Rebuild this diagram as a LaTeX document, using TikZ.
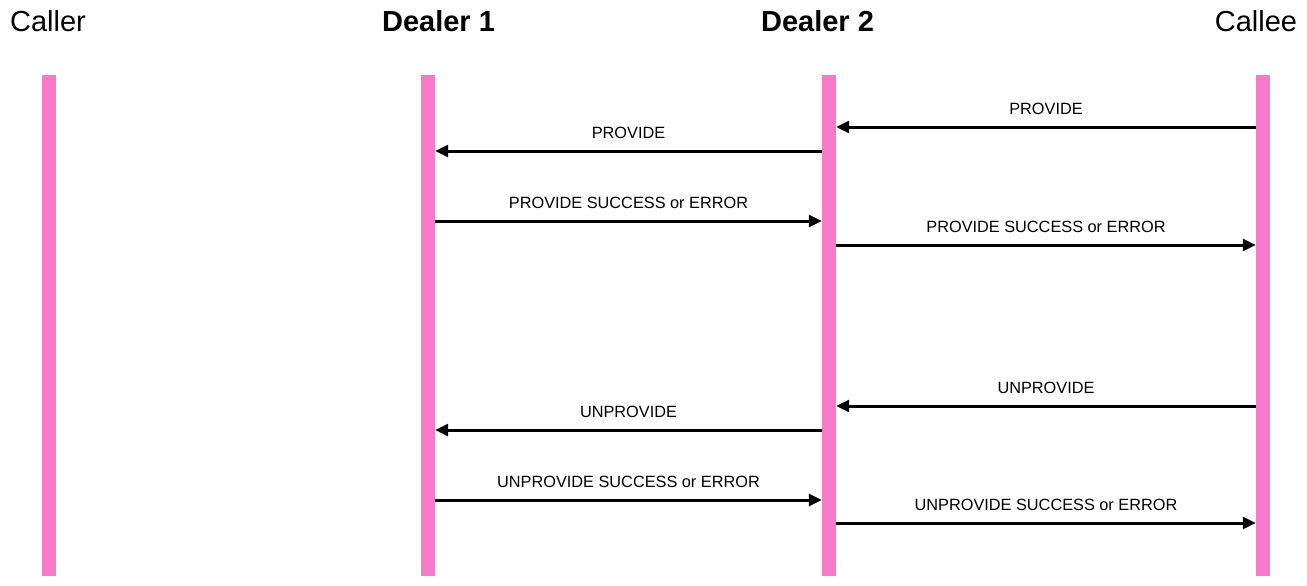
\documentclass[tikz,border=0pt]{standalone}
\usepackage{fontspec}
\setmainfont{Liberation Sans}
\usepackage{xcolor}
\definecolor{LifePink}{HTML}{F878C9}
\usetikzlibrary{arrows.meta}

\begin{document}
\begin{tikzpicture}[
  x=1pt, y=-1pt,
  lifeline/.style={
    rectangle,
    fill=LifePink,
    draw=none,
    minimum width=14pt,
    minimum height=501pt,
    inner sep=0pt},
  actor/.style={
    anchor=base,
    font=\fontsize{29}{34}\selectfont,
    inner sep=0pt},
  msg/.style={
    draw=black,
    line width=3pt,
    -{Triangle[length=13pt,width=12pt]}},
  msglabel/.style={
    midway,
    anchor=base,
    yshift=13pt,
    font=\fontsize{16.3}{19}\selectfont,
    inner sep=0pt},
]

\useasboundingbox (0,0) rectangle (1307,586);

% lifelines
\node[lifeline] (caller) at (49,325.5)   {};
\node[lifeline] (dealerA) at (428,325.5) {};
\node[lifeline] (dealerB) at (829,325.5) {};
\node[lifeline] (callee) at (1263,325.5) {};

% headings
\node[actor] (callerT) at (48,32)     {Caller};
\node[actor] (dealerAT) at (438.5,32) {\bfseries Dealer 1};
\node[actor] (dealerBT) at (817.5,32) {\bfseries Dealer 2};
\node[actor] (calleeT) at (1256,32)   {Callee};

% provide
\draw[msg] (callee.west |- 0,127) --
  node[msglabel] {PROVIDE} (dealerB.east |- 0,127);
\draw[msg] (dealerB.west |- 0,151) --
  node[msglabel] {PROVIDE} (dealerA.east |- 0,151);
\draw[msg] (dealerA.east |- 0,221) --
  node[msglabel] {PROVIDE SUCCESS or ERROR} (dealerB.west |- 0,221);
\draw[msg] (dealerB.east |- 0,245) --
  node[msglabel] {PROVIDE SUCCESS or ERROR} (callee.west |- 0,245);

% unprovide
\draw[msg] (callee.west |- 0,406) --
  node[msglabel] {UNPROVIDE} (dealerB.east |- 0,406);
\draw[msg] (dealerB.west |- 0,430) --
  node[msglabel] {UNPROVIDE} (dealerA.east |- 0,430);
\draw[msg] (dealerA.east |- 0,500) --
  node[msglabel] {UNPROVIDE SUCCESS or ERROR} (dealerB.west |- 0,500);
\draw[msg] (dealerB.east |- 0,523) --
  node[msglabel] {UNPROVIDE SUCCESS or ERROR} (callee.west |- 0,523);

\end{tikzpicture}
\end{document}
